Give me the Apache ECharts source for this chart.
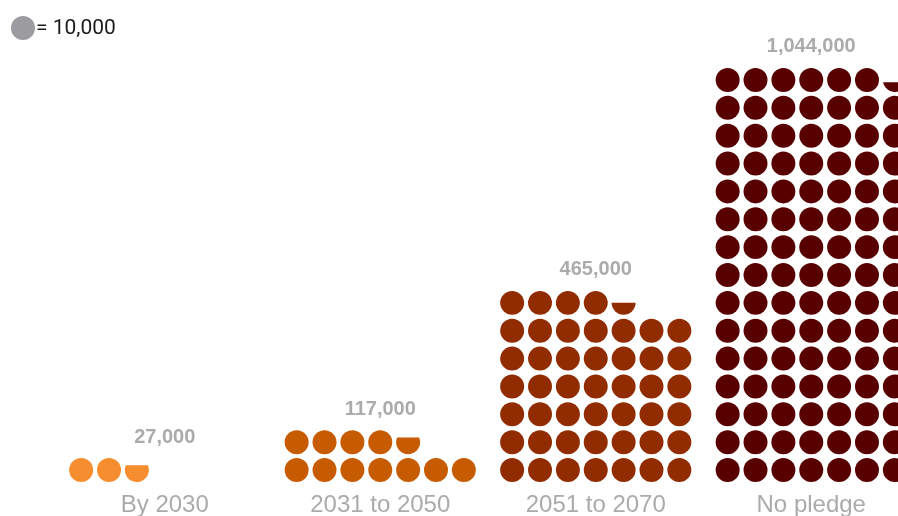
<!DOCTYPE html>
<html>
<head>
<meta charset="utf-8">
<script src="https://cdn.jsdelivr.net/npm/echarts@6/dist/echarts.min.js"></script>
<style>
  html, body { margin: 0; padding: 0; background: #fff; }
  #chart { width: 898px; height: 516px; }
</style>
</head>
<body>
<div id="chart"></div>
<script>
// data
const categories = ["By 2030", "2031 to 2050", "2051 to 2070", "No pledge"];
const values = [27000, 117000, 465000, 1044000];
const unitValue = 10000; // one dot
const dotsPerRow = 7;

const colors = ["#f68d2e", "#c75b02", "#912c00", "#580000"];

const chart = echarts.init(document.getElementById("chart"));

// draws one column of dots for a category
function renderDots(params, api) {
  const idx = api.value(0);
  const v = api.value(1);
  const base = api.coord([idx, 0]);
  const pitch = api.size([0, 1])[1];
  const r = pitch * 0.43;
  const units = v / unitValue;
  const full = Math.floor(units + 1e-9);
  const frac = units - full;
  const color = colors[idx];
  const children = [];

  for (let i = 0; i < full; i++) {
    const col = i % dotsPerRow;
    const row = Math.floor(i / dotsPerRow);
    const cx = base[0] + (col - 3) * pitch;
    const cy = api.coord([idx, row + 0.5])[1];
    children.push({
      type: "circle",
      shape: { cx: cx, cy: cy, r: r },
      style: { fill: color },
    });
  }

  // partial dot, cut from the top
  if (frac > 0.01) {
    const col = full % dotsPerRow;
    const row = Math.floor(full / dotsPerRow);
    const cx = base[0] + (col - 3) * pitch;
    const cy = api.coord([idx, row + 0.5])[1];
    const y0 = cy + r - 2 * r * frac;
    const w = Math.sqrt(Math.max(r * r - (y0 - cy) * (y0 - cy), 0));
    const large = frac > 0.5 ? 1 : 0;
    children.push({
      type: "path",
      shape: {
        pathData: `M ${cx - w} ${y0} A ${r} ${r} 0 ${large} 0 ${cx + w} ${y0} Z`,
      },
      style: { fill: color },
    });
  }

  // total above the top row
  const topRow = Math.floor((Math.ceil(units - 1e-9) - 1) / dotsPerRow);
  const labelY = api.coord([idx, topRow + 0.5])[1] - 33;
  children.push({
    type: "text",
    style: {
      x: base[0],
      y: labelY,
      text: echarts.format.addCommas(v),
      fill: "#ababab",
      font: "bold 20px 'Liberation Sans', Arial, sans-serif",
      align: "center",
      verticalAlign: "middle",
    },
  });

  return { type: "group", children: children };
}

const option = {
  animation: false,
  grid: { left: 57, width: 862, top: 66, bottom: 32, outerBoundsMode: "none" },
  xAxis: {
    type: "category",
    data: categories,
    axisLine: { show: false },
    axisTick: { show: false },
    axisLabel: {
      color: "#ababab",
      fontSize: 24,
      fontFamily: "'Liberation Sans', Arial, sans-serif",
      margin: 9,
    },
  },
  yAxis: {
    type: "value",
    min: 0,
    max: 15,
    show: false,
  },
  graphic: [
    {
      type: "circle",
      shape: { cx: 23, cy: 28, r: 12 },
      style: { fill: "#9b9ba0" },
    },
    {
      type: "text",
      x: 36,
      y: 29,
      style: {
        text: "= 10,000",
        fill: "#1a1a1a",
        font: "21px Roboto, sans-serif",
        verticalAlign: "middle",
      },
    },
  ],
  series: [
    {
      type: "custom",
      renderItem: renderDots,
      data: values.map((v, i) => [i, v]),
      encode: { x: 0, y: 1 },
    },
  ],
};

chart.setOption(option);
</script>
</body>
</html>
